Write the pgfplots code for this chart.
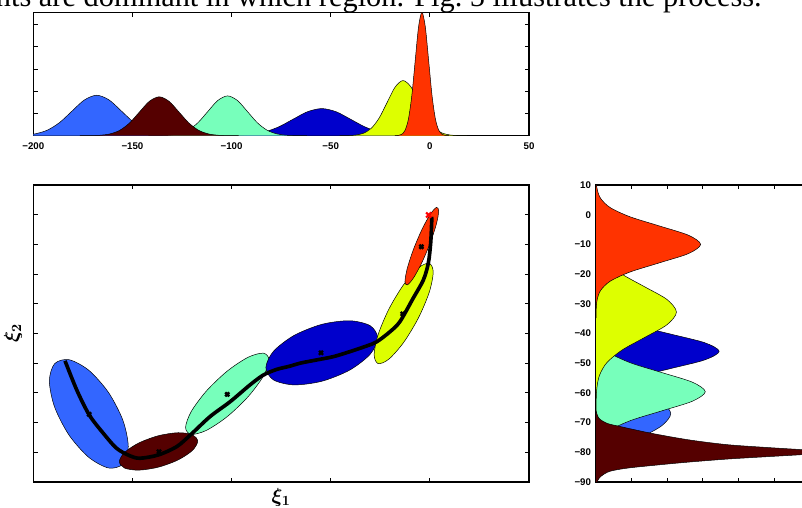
\documentclass[border=0pt]{standalone}
\usepackage{fontspec}
\setmainfont{Liberation Serif}
\setsansfont{Liberation Sans}
\usepackage{pgfplots}
\pgfplotsset{compat=1.18}

\definecolor{cblue}{RGB}{51,102,255}
\definecolor{cbrown}{RGB}{85,0,0}
\definecolor{cgreen}{RGB}{119,255,187}
\definecolor{cnavy}{RGB}{0,0,204}
\definecolor{cyellow}{RGB}{221,255,0}
\definecolor{cred}{RGB}{255,51,0}

\pgfplotsset{
  panel/.style={scale only axis, anchor=south west,
    axis line style={line width=0.9pt},
    tick style={black, line width=0.6pt},
    major tick length=1.1mm, tick align=inside,
    ticklabel style={font=\sffamily\bfseries\fontsize{6.9}{7.5}\selectfont}},
  comp/.style={draw=black, line width=0.35pt, smooth, fill=#1},
  blob/.style={draw=black, line width=0.35pt, smooth cycle, fill=#1},
}

\begin{document}
\begin{tikzpicture}
\useasboundingbox (0,0) rectangle (20.05,12.7);
\clip (0,0) rectangle (20.05,12.7);

% caption line of the page, cut by the crop
\node[anchor=base east, inner sep=0pt, font=\fontsize{21.6}{24}\selectfont]
  at (19.05,12.525) {nts are dominant in which region. Fig.~5 illustrates the process.};

% ---- top: marginals over xi_1
\begin{axis}[panel, at={(0.8325cm,9.3075cm)},
  width=12.3925cm, height=3.085cm,
  xmin=-200, xmax=50, ymin=0, ymax=5.55,
  xtick={-200,-150,-100,-50,0,50},
  xticklabels={−200,−150,−100,−50,0,50},
  xticklabel style={yshift=-0.6mm},
  ytick={1,2,3,4,5}, yticklabels={}]
\addplot[comp=cblue] coordinates {
 (-218,0) (-211.75,0.004) (-205.5,0.020) (-199.25,0.080) (-193,0.246) (-186.75,0.591)
 (-180.5,1.104) (-174.25,1.606) (-168,1.82) (-161.75,1.606) (-155.5,1.104) (-149.25,0.591)
 (-143,0.246) (-136.75,0.080) (-130.5,0.020) (-124.25,0.004) (-118,0)};
\addplot[comp=cnavy] coordinates {
 (-112.5,0) (-105.25,0.003) (-98,0.014) (-90.75,0.054) (-83.5,0.165) (-76.25,0.396)
 (-69,0.740) (-61.75,1.077) (-54.5,1.22) (-47.25,1.077) (-40,0.740) (-32.75,0.396)
 (-25.5,0.165) (-18.25,0.054) (-11,0.014) (-3.75,0.003) (3.5,0)};
\addplot[comp=cgreen] coordinates {
 (-142,0) (-137,0.004) (-132,0.020) (-127,0.079) (-122,0.242) (-117,0.581)
 (-112,1.086) (-107,1.580) (-102,1.79) (-97,1.580) (-92,1.086) (-87,0.581)
 (-82,0.242) (-77,0.079) (-72,0.020) (-67,0.004) (-62,0)};
\addplot[comp=cyellow] coordinates {
 (-45.5,0) (-41.5,0.005) (-37.5,0.028) (-33.5,0.109) (-29.5,0.336) (-25.5,0.805)
 (-21.5,1.504) (-17.5,2.189) (-13.5,2.48) (-9.5,2.189) (-5.5,1.504) (-1.5,0.805)
 (2.5,0.336) (6.5,0.109) (10.5,0.028) (14.5,0.005) (18.5,0)};
\addplot[comp=cred] coordinates {
 (-17.6,0) (-15.9,0.012) (-14.2,0.062) (-12.5,0.244) (-10.8,0.751) (-9.1,1.802)
 (-7.4,3.366) (-5.7,4.898) (-4,5.55) (-2.3,4.898) (-0.6,3.366) (1.1,1.802)
 (2.8,0.751) (4.5,0.244) (6.2,0.062) (7.9,0.012) (9.6,0)};
\addplot[comp=cbrown] coordinates {
 (-176.5,0) (-171.5,0.004) (-166.5,0.019) (-161.5,0.077) (-156.5,0.237) (-151.5,0.568)
 (-146.5,1.061) (-141.5,1.544) (-136.5,1.75) (-131.5,1.544) (-126.5,1.061) (-121.5,0.568)
 (-116.5,0.237) (-111.5,0.077) (-106.5,0.019) (-101.5,0.004) (-96.5,0)};
\end{axis}

% ---- main: components in (xi_1, xi_2)
\begin{axis}[panel, at={(0.8325cm,0.65cm)},
  width=12.3925cm, height=7.425cm,
  xmin=-200, xmax=50, ymin=-90, ymax=10,
  xtick={-150,-100,-50,0}, xticklabels={},
  ytick={-80,-70,...,0}, yticklabels={},
  xlabel={$\xi_1$}, ylabel={$\xi_2$},
  label style={font=\fontsize{14}{16}\selectfont\boldmath, inner sep=0pt},
  xlabel style={at={(axis description cs:0.5,-0.052)}, anchor=center},
  ylabel style={at={(axis description cs:-0.041,0.502)}, anchor=center}]
\addplot[blob=cblue] coordinates {
 (-152.1,-78.1) (-154.77,-83.95) (-162.05,-85.28) (-172,-81.71) (-181.95,-74.23) (-189.23,-64.81)
 (-191.9,-56.0) (-189.23,-50.15) (-181.95,-48.83) (-172,-52.39) (-162.05,-59.88) (-154.77,-69.29)};
\addplot[blob=cgreen] coordinates {
 (-81.1,-48.94) (-83.92,-54.29) (-91.63,-61.25) (-102.15,-67.96) (-112.68,-72.61) (-120.38,-73.97)
 (-123.2,-71.66) (-120.38,-66.31) (-112.68,-59.35) (-102.15,-52.64) (-91.63,-47.99) (-83.92,-46.63)};
\addplot[blob=cbrown] coordinates {
 (-117.1,-76.27) (-119.75,-79.38) (-126.98,-82.57) (-136.85,-84.99) (-146.73,-86.0) (-153.95,-85.32)
 (-156.6,-83.13) (-153.95,-80.03) (-146.73,-76.84) (-136.85,-74.41) (-126.98,-73.41) (-119.75,-74.09)};
\addplot[blob=cnavy] coordinates {
 (-26.3,-41.51) (-30.08,-46.97) (-40.4,-52.31) (-54.5,-56.08) (-68.6,-57.30) (-78.92,-55.61)
 (-82.7,-51.49) (-78.92,-46.03) (-68.6,-40.70) (-54.5,-36.92) (-40.4,-35.71) (-30.08,-37.39)};
\addplot[blob=cyellow] coordinates {
 (1.7,-19.37) (-0.3,-26.1) (-5.75,-34.74) (-13.2,-42.98) (-20.65,-48.62) (-26.1,-50.14)
 (-28.1,-47.13) (-26.1,-40.41) (-20.65,-31.76) (-13.2,-23.52) (-5.75,-17.88) (-0.3,-16.37)};
\addplot[blob=cred] coordinates {
 (4.45,1.27) (3.31,-3.09) (0.2,-9.47) (-4.05,-16.14) (-8.3,-21.34) (-11.41,-23.65)
 (-12.55,-22.47) (-11.41,-18.11) (-8.3,-11.74) (-4.05,-5.06) (0.2,0.14) (3.31,2.45)};
% regression curve
\addplot[black, line width=2.6pt, smooth] coordinates {
 (-184.0,-49.2) (-178.1,-59.0) (-171.8,-67.4) (-164.7,-73.6) (-157.9,-78.7) (-151.2,-81.2)
 (-146.2,-82.0) (-137.0,-80.9) (-127.7,-78.1) (-121,-74.3) (-110.9,-68) (-100.8,-63)
 (-90.7,-57.3) (-84.0,-54) (-77.3,-52.1) (-70.6,-51) (-65.5,-50.0) (-57.1,-48.9)
 (-48.7,-47.8) (-40.3,-46.1) (-31.9,-44.2) (-26.8,-42.8) (-20.1,-39.4) (-15.1,-36.0)
 (-8.4,-28.1) (-3.3,-22.0) (-0.8,-16.4) (0.4,-9.6) (0.9,-2.9) (0.9,-0.7)};
% centres
\addplot[only marks, mark=x, mark size=2pt, line width=1.7pt, black] coordinates {
 (-171.8,-67.2) (-136.6,-79.8) (-102.2,-60.5) (-54.9,-46.5) (-13.7,-33.4) (-4.3,-10.8)};
\addplot[only marks, mark=x, mark size=2.6pt, line width=1.5pt, red] coordinates {(-0.6,-0.1)};
\end{axis}

% ---- right: marginals over xi_2
\begin{axis}[panel, at={(14.9cm,0.65cm)},
  width=6.23cm, height=7.425cm,
  xmin=0, xmax=7, ymin=-90, ymax=10,
  xtick={1,2,3,4,5,6}, xticklabels={},
  ytick={-90,-80,...,10},
  yticklabels={−90,−80,−70,−60,−50,−40,−30,−20,−10,0,10}]
\addplot[comp=cblue] coordinates {
 (0,-99) (0.005,-95) (0.023,-91) (0.092,-87) (0.284,-83) (0.682,-79) (1.274,-75) (1.853,-71)
 (2.1,-67) (1.853,-63) (1.274,-59) (0.682,-55) (0.284,-51) (0.092,-47) (0.023,-43) (0.005,-39) (0,-35)};
\addplot[comp=cnavy] coordinates {
 (0,-69.2) (0.008,-66.3) (0.038,-63.4) (0.152,-60.5) (0.468,-57.6) (1.123,-54.7) (2.098,-51.8) (3.053,-48.9)
 (3.46,-46) (3.053,-43.1) (2.098,-40.2) (1.123,-37.3) (0.468,-34.4) (0.152,-31.5) (0.038,-28.6) (0.008,-25.7) (0,-22.8)};
\addplot[comp=cgreen] coordinates {
 (0,-85.2) (0.007,-82) (0.034,-78.8) (0.135,-75.6) (0.415,-72.4) (0.997,-69.2) (1.862,-66) (2.709,-62.8)
 (3.07,-59.6) (2.709,-56.4) (1.862,-53.2) (0.997,-50) (0.415,-46.8) (0.135,-43.6) (0.034,-40.4) (0.007,-37.2) (0,-34)};
\addplot[comp=cyellow] coordinates {
 (0,-66.8) (0.005,-62.55) (0.025,-58.3) (0.099,-54.05) (0.306,-49.8) (0.734,-45.55) (1.371,-41.3) (1.994,-37.05)
 (2.26,-32.8) (1.994,-28.55) (1.371,-24.3) (0.734,-20.05) (0.306,-15.8) (0.099,-11.55) (0.025,-7.3) (0.005,-3.05) (0,1.2)};
\addplot[comp=cred] coordinates {
 (0,-34.8) (0.006,-31.7) (0.033,-28.6) (0.129,-25.5) (0.398,-22.4) (0.955,-19.3) (1.783,-16.2) (2.595,-13.1)
 (2.94,-10) (2.595,-6.9) (1.783,-3.8) (0.955,-0.7) (0.398,2.4) (0.129,5.5) (0.033,8.6) (0.006,11.7) (0,14.8)};
\addplot[comp=cbrown] coordinates {
 (0,-66) (0.08,-68.5) (0.3,-70.2) (0.67,-71.3) (1.56,-73.6) (2.6,-75.8) (3.66,-77.4) (4.7,-78.3)
 (5.78,-79.1) (6.9,-79.9) (5.78,-80.8) (4.7,-81.55) (3.66,-82.3) (2.6,-83.3) (1.79,-84.2) (0.9,-85.3)
 (0.39,-86.4) (0.15,-88) (0.05,-89.5) (0,-92)};
\end{axis}
\end{tikzpicture}
\end{document}
